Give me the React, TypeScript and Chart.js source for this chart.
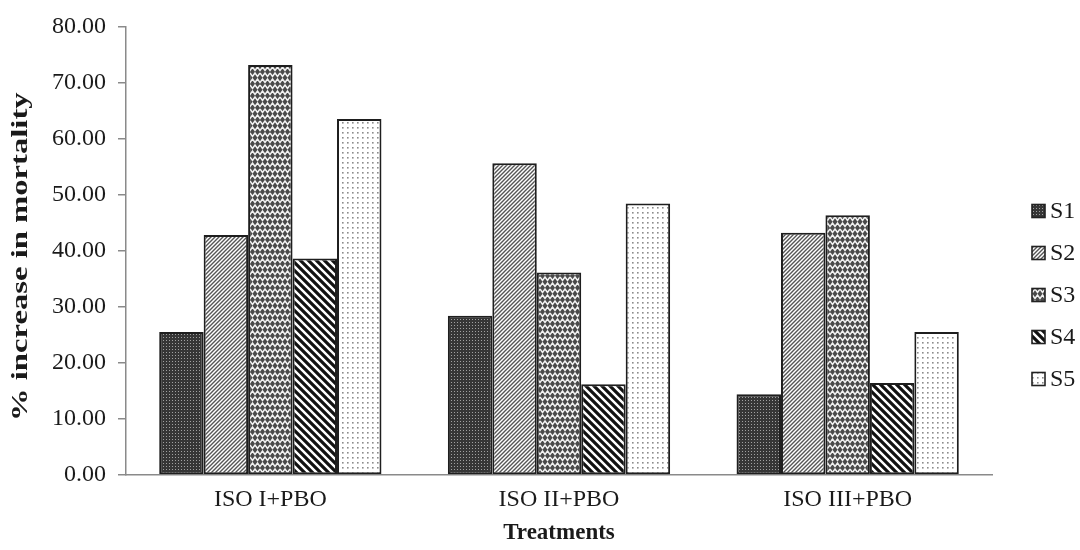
import React, { useEffect, useRef } from "react";
import { Chart, registerables } from "chart.js";

Chart.register(...registerables);

const categories = ["ISO I+PBO", "ISO II+PBO", "ISO III+PBO"];
const seriesNames = ["S1", "S2", "S3", "S4", "S5"];
const s1 = [25.5, 28.4, 14.4];
const s2 = [42.8, 55.6, 43.2];
const s3 = [73.1, 36.1, 46.3];
const s4 = [38.6, 16.2, 16.4];
const s5 = [63.5, 48.4, 25.5];
const yMin = 0;
const yMax = 80;
const yStep = 10;
const yTitle = "% increase in mortality";
const xTitle = "Treatments";

const FONT = "'Liberation Serif', 'DejaVu Serif', serif";

function makeTile(w: number, h: number, draw: (c: CanvasRenderingContext2D) => void) {
  const cv = document.createElement("canvas");
  cv.width = w;
  cv.height = h;
  const c = cv.getContext("2d")!;
  draw(c);
  return cv;
}

function makePatterns(ctx: CanvasRenderingContext2D): CanvasPattern[] {
  // S1: dark fine checker
  const t1 = makeTile(3, 3, (c) => {
    c.fillStyle = "#363636";
    c.fillRect(0, 0, 3, 3);
    c.fillStyle = "#a0a0a0";
    c.fillRect(1, 1, 1, 1);
  });
  // S2: fine "/" diagonal lines
  const t2 = makeTile(4, 4, (c) => {
    c.fillStyle = "#ffffff";
    c.fillRect(0, 0, 4, 4);
    c.strokeStyle = "#555";
    c.lineWidth = 1.4;
    c.beginPath();
    c.moveTo(-1, 5);
    c.lineTo(5, -1);
    c.moveTo(-1, 1);
    c.lineTo(1, -1);
    c.moveTo(3, 5);
    c.lineTo(5, 3);
    c.stroke();
  });
  // S3: herringbone / chevrons
  const t3 = makeTile(10, 12, (c) => {
    c.fillStyle = "#4a4a4a";
    c.fillRect(0, 0, 10, 12);
    c.strokeStyle = "#f2f2f2";
    c.lineWidth = 1.5;
    c.beginPath();
    c.moveTo(0, 1);
    c.lineTo(2.5, 4.5);
    c.lineTo(5, 1);
    c.lineTo(7.5, 4.5);
    c.lineTo(10, 1);
    c.moveTo(-2.5, 7);
    c.lineTo(0, 10.5);
    c.lineTo(2.5, 7);
    c.lineTo(5, 10.5);
    c.lineTo(7.5, 7);
    c.lineTo(10, 10.5);
    c.lineTo(12.5, 7);
    c.stroke();
  });
  // S4: bold "\" stripes
  const t4 = makeTile(8, 8, (c) => {
    c.fillStyle = "#ffffff";
    c.fillRect(0, 0, 8, 8);
    c.strokeStyle = "#111111";
    c.lineWidth = 3.2;
    c.beginPath();
    c.moveTo(-8, 0);
    c.lineTo(8, 16);
    c.moveTo(-4, -4);
    c.lineTo(12, 12);
    c.moveTo(0, -8);
    c.lineTo(16, 8);
    c.moveTo(-8, -8);
    c.lineTo(16, 16);
    c.stroke();
  });
  // S5: gray dots
  const t5 = makeTile(5, 5, (c) => {
    c.fillStyle = "#ffffff";
    c.fillRect(0, 0, 5, 5);
    c.fillStyle = "#8c8c8c";
    c.fillRect(2, 2, 1.6, 1.6);
  });
  return [t1, t2, t3, t4, t5].map((t) => ctx.createPattern(t, "repeat")!);
}

export default function App() {
  const ref = useRef<HTMLCanvasElement>(null);
  useEffect(() => {
    const canvas = ref.current!;
    const ctx = canvas.getContext("2d")!;
    const patterns = makePatterns(ctx);
    const values = [s1, s2, s3, s4, s5];

    const legendPlugin = {
      id: "customLegend",
      afterDraw(chart: any) {
        const c = chart.ctx as CanvasRenderingContext2D;
        c.save();
        seriesNames.forEach((name, i) => {
          const cy = 211 + i * 42;
          const bx = 1032;
          const size = 13;
          c.fillStyle = patterns[i];
          c.fillRect(bx, cy - size / 2, size, size);
          c.strokeStyle = "#222";
          c.lineWidth = 1.6;
          c.strokeRect(bx, cy - size / 2, size, size);
          c.fillStyle = "#1a1a1a";
          c.font = `24px ${FONT}`;
          c.textBaseline = "middle";
          c.textAlign = "left";
          c.fillText(name, bx + size + 5, cy + 1);
        });
        // y axis title, stretched along its reading direction
        const area = chart.chartArea;
        c.translate(21, (area.top + area.bottom) / 2 + 6);
        c.rotate(-Math.PI / 2);
        c.scale(1.42, 1);
        c.font = `bold 23px ${FONT}`;
        c.fillStyle = "#1a1a1a";
        c.textAlign = "center";
        c.textBaseline = "middle";
        c.fillText(yTitle, 0, 0);
        c.restore();
      },
    };

    const chart = new Chart(canvas, {
      type: "bar",
      data: {
        labels: categories,
        datasets: seriesNames.map((name, i) => ({
          label: name,
          data: values[i],
          backgroundColor: patterns[i] as any,
          borderColor: "#1e1e1e",
          borderWidth: 2,
          borderSkipped: false,
          categoryPercentage: 0.77,
          barPercentage: 1.0,
        })),
      },
      options: {
        responsive: false,
        animation: false,
        devicePixelRatio: 1,
        layout: { padding: { left: 0, right: 88, top: 25, bottom: 0 } },
        plugins: {
          legend: { display: false },
          tooltip: { enabled: false },
        },
        scales: {
          x: {
            grid: { display: false, drawTicks: false },
            border: { display: true, color: "#8a8a8a", width: 1.5 },
            ticks: {
              color: "#1a1a1a",
              font: { family: FONT, size: 24 },
              padding: 10,
            },
            title: {
              display: true,
              text: xTitle,
              color: "#1a1a1a",
              font: { family: FONT, size: 23, weight: "bold" },
              padding: { top: 0, bottom: 3 },
            },
            afterFit: (scale: any) => {
              scale.height = 75;
            },
          },
          y: {
            min: yMin,
            max: yMax,
            grid: {
              display: true,
              drawOnChartArea: false,
              drawTicks: true,
              tickLength: 8,
              color: "#8a8a8a",
              lineWidth: 1.5,
            },
            border: { display: true, color: "#8a8a8a", width: 1.5 },
            ticks: {
              stepSize: yStep,
              color: "#1a1a1a",
              font: { family: FONT, size: 24 },
              padding: 12,
              callback: (v: any) => Number(v).toFixed(2),
            },
            title: { display: false },
            afterFit: (scale: any) => {
              scale.width = 126;
            },
          },
        },
      },
      plugins: [legendPlugin],
    });
    return () => chart.destroy();
  }, []);

  return (
    <div style={{ position: "fixed", left: 0, top: 0, width: 1080, height: 550, background: "#fff" }}>
      <canvas ref={ref} width={1080} height={550} />
    </div>
  );
}
